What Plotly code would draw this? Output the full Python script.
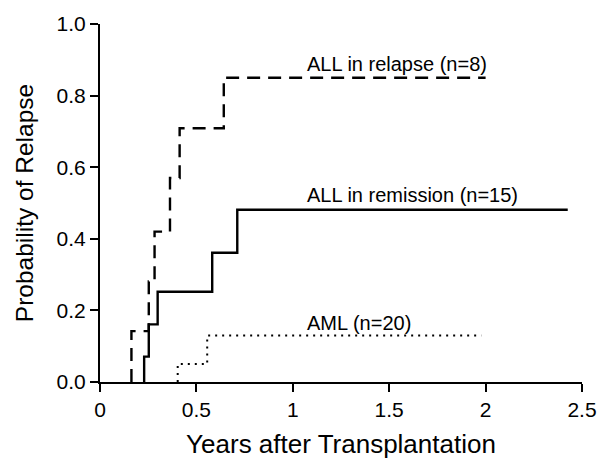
import plotly.graph_objects as go

# Cumulative relapse curves (years after transplantation, probability)
relapse_t = [0.163, 0.163, 0.253, 0.283, 0.363, 0.413, 0.642, 2.0]
relapse_p = [0.0, 0.142, 0.281, 0.42, 0.57, 0.709, 0.85, 0.85]

remission_t = [0.229, 0.229, 0.253, 0.299, 0.582, 0.712, 2.426]
remission_p = [0.0, 0.071, 0.161, 0.252, 0.361, 0.481, 0.481]

aml_t = [0.403, 0.403, 0.556, 1.978]
aml_p = [0.0, 0.05, 0.13, 0.13]

labels = ["ALL in relapse (n=8)", "ALL in remission (n=15)", "AML (n=20)"]
label_x = [1.075, 1.075, 1.075]
label_y = [0.889, 0.521, 0.166]

x_ticks = [0, 0.5, 1, 1.5, 2, 2.5]
x_tick_text = ["0", "0.5", "1", "1.5", "2", "2.5"]
y_ticks = [0, 0.2, 0.4, 0.6, 0.8, 1.0]
y_tick_text = ["0.0", "0.2", "0.4", "0.6", "0.8", "1.0"]

FONT = "Liberation Sans, Arial, sans-serif"

fig = go.Figure()
fig.add_trace(go.Scatter(x=relapse_t, y=relapse_p, mode="lines", line_shape="hv",
                         line=dict(color="black", width=2.4, dash="13px,8px"),
                         cliponaxis=False, showlegend=False))
fig.add_trace(go.Scatter(x=remission_t, y=remission_p, mode="lines", line_shape="hv",
                         line=dict(color="black", width=2.4),
                         cliponaxis=False, showlegend=False))
fig.add_trace(go.Scatter(x=aml_t, y=aml_p, mode="lines", line_shape="hv",
                         line=dict(color="black", width=2, dash="2px,5px"),
                         cliponaxis=False, showlegend=False))

for t, xx, yy in zip(labels, label_x, label_y):
    fig.add_annotation(x=xx, y=yy, text=t, showarrow=False,
                       font=dict(family=FONT, size=20, color="black"),
                       xanchor="left", yanchor="middle", xshift=-2)

fig.update_xaxes(range=[0, 2.5], tickvals=x_ticks, ticktext=x_tick_text,
                 showline=True, linewidth=2.2, linecolor="black",
                 ticks="outside", ticklen=8, tickwidth=2.2, tickcolor="black",
                 showgrid=False, zeroline=False,
                 tickfont=dict(family=FONT, size=21, color="black"),
                 title=dict(text="Years after Transplantation",
                            font=dict(family=FONT, size=26, color="black"), standoff=15))
fig.update_yaxes(range=[0, 1.0], tickvals=y_ticks, ticktext=y_tick_text,
                 showline=True, linewidth=2.2, linecolor="black",
                 ticks="outside", ticklen=8, tickwidth=2.2, tickcolor="black",
                 showgrid=False, zeroline=False,
                 tickfont=dict(family=FONT, size=21, color="black"),
                 title=dict(text="Probability of Relapse",
                            font=dict(family=FONT, size=24.5, color="black"), standoff=16))

fig.update_layout(width=609, height=466, plot_bgcolor="white", paper_bgcolor="white",
                  margin=dict(l=100, r=21, t=19, b=72))

fig.write_html("out.html", config={"displayModeBar": False},
               post_script="document.body.style.margin='0';document.body.style.overflow='hidden';")
